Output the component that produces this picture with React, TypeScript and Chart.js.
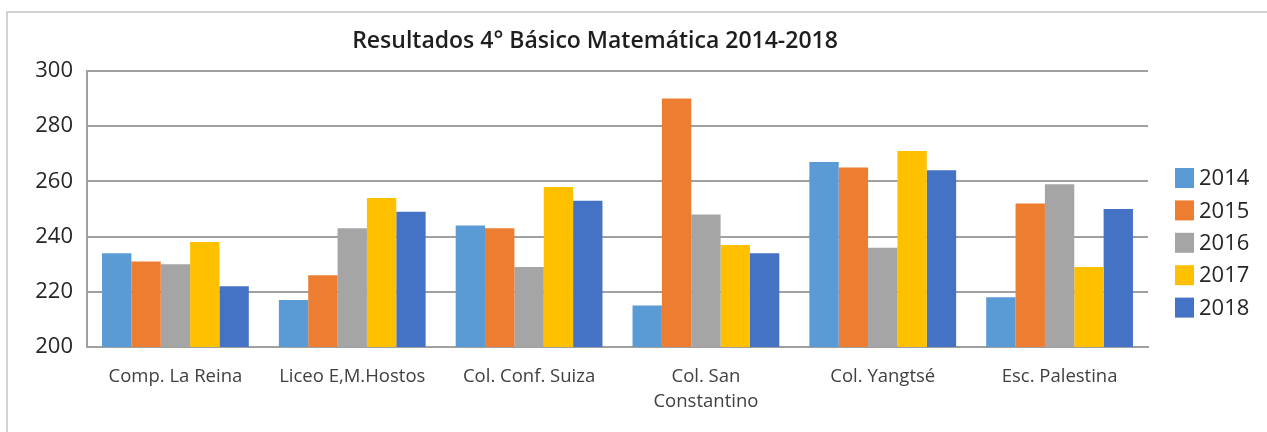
import React, { useEffect, useRef } from "react";
import { Chart, registerables } from "chart.js";

Chart.register(...registerables);

const categories: (string | string[])[] = [
  "Comp. La Reina",
  "Liceo E,M.Hostos",
  "Col. Conf. Suiza",
  ["Col. San", "Constantino"],
  "Col. Yangtsé",
  "Esc. Palestina",
];
const seriesLabels = ["2014", "2015", "2016", "2017", "2018"];
const seriesColors = ["#5B9BD5", "#ED7D31", "#A5A5A5", "#FFC000", "#4472C4"];
const v2014 = [234, 217, 244, 215, 267, 218];
const v2015 = [231, 226, 243, 290, 265, 252];
const v2016 = [230, 243, 229, 248, 236, 259];
const v2017 = [238, 254, 258, 237, 271, 229];
const v2018 = [222, 249, 253, 234, 264, 250];
const seriesValues = [v2014, v2015, v2016, v2017, v2018];
const yTicks = [200, 220, 240, 260, 280, 300];
const titleText = "Resultados 4° Básico Matemática 2014-2018";

const FONT = "'Open Sans', 'Liberation Sans', sans-serif";

const decorPlugin = {
  id: "decor",
  beforeDraw(chart: any) {
    const ctx = chart.ctx;
    ctx.save();
    ctx.fillStyle = "#ffffff";
    ctx.fillRect(0, 0, chart.width, chart.height);
    ctx.strokeStyle = "#c4c4c4";
    ctx.lineWidth = 1.5;
    ctx.beginPath();
    ctx.moveTo(7, chart.height);
    ctx.lineTo(7, 12);
    ctx.lineTo(chart.width, 12);
    ctx.stroke();
    ctx.restore();
  },
  afterDraw(chart: any) {
    const ctx = chart.ctx;
    ctx.save();
    // title
    ctx.fillStyle = "#1e1e1e";
    ctx.font = `600 23px ${FONT}`;
    ctx.textAlign = "center";
    ctx.textBaseline = "middle";
    ctx.fillText(titleText, 595, 41);
    // legend
    ctx.font = `22px ${FONT}`;
    ctx.textAlign = "left";
    chart.data.datasets.forEach((ds: any, i: number) => {
      const cy = 178 + i * 32.4;
      ctx.fillStyle = ds.backgroundColor;
      ctx.fillRect(1175, cy - 10, 19, 20);
      ctx.fillStyle = "#262626";
      ctx.fillText(ds.label, 1199, cy + 1);
    });
    ctx.restore();
  },
};

export default function App() {
  const ref = useRef<HTMLCanvasElement | null>(null);
  useEffect(() => {
    document.body.style.margin = "0";
    const chart = new Chart(ref.current!, {
      type: "bar",
      data: {
        labels: categories,
        datasets: seriesLabels.map((label, i) => ({
          label,
          data: seriesValues[i],
          backgroundColor: seriesColors[i],
          borderWidth: 0,
          categoryPercentage: 0.83,
          barPercentage: 1,
        })),
      },
      options: {
        animation: false,
        responsive: false,
        layout: { padding: { top: 71, right: 119, left: 0, bottom: 0 } },
        plugins: {
          legend: { display: false },
          title: { display: false },
          tooltip: { enabled: false },
        },
        scales: {
          x: {
            grid: { display: false, drawTicks: false },
            border: { display: true, color: "#a0a0a0", width: 2 },
            ticks: {
              color: "#404040",
              font: { family: FONT, size: 18.5, lineHeight: 1.35 },
              padding: 17,
              maxRotation: 0,
              autoSkip: false,
            },
            afterFit(scale: any) {
              scale.height = 85;
            },
          },
          y: {
            min: 200,
            max: 300,
            afterBuildTicks(scale: any) {
              scale.ticks = yTicks.map((v) => ({ value: v }));
            },
            grid: { color: "#a0a0a0", lineWidth: 2, drawTicks: false },
            border: { display: true, color: "#a0a0a0", width: 2 },
            ticks: {
              color: "#262626",
              font: { family: FONT, size: 22 },
              padding: 14,
            },
            afterFit(scale: any) {
              scale.width = 87;
            },
          },
        },
      },
      plugins: [decorPlugin],
    });
    return () => chart.destroy();
  }, []);
  return (
    <div style={{ width: 1267, height: 432 }}>
      <canvas ref={ref} width={1267} height={432} style={{ display: "block" }} />
    </div>
  );
}
